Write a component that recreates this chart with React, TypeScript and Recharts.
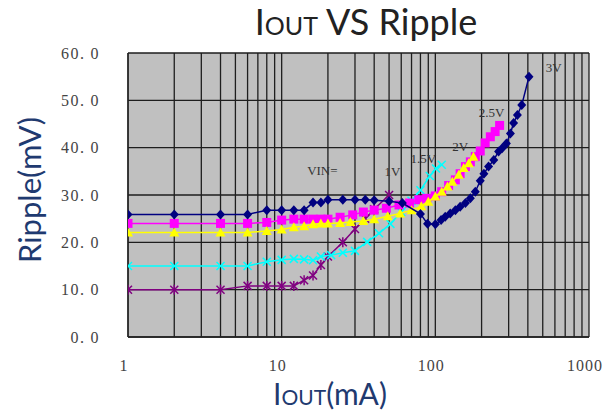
import React from "react";
import { ScatterChart, Scatter, XAxis, YAxis, CartesianGrid, ReferenceDot } from "recharts";

// ---- data ----
const v3X = [1, 2, 4, 6, 8, 10, 12, 14, 16, 18, 20, 25, 30, 35, 40, 50, 61, 80, 89, 100, 109, 116, 125, 135, 145, 157, 169, 182, 196, 207, 222, 240, 258, 272, 290, 308, 323, 342, 365, 407];
const v3Y = [25.9, 25.9, 25.9, 25.9, 26.8, 26.8, 26.8, 26.8, 28.4, 28.4, 29, 29, 29, 29, 28.9, 28.7, 28.3, 26, 23.9, 23.8, 24.7, 25.4, 26.1, 26.8, 27.5, 28.3, 29.3, 30.7, 33, 34.5, 36, 37.4, 39.2, 39.9, 40.9, 43, 45.2, 46.9, 49, 55];

const v25X = [1, 2, 4, 6, 8, 10, 12, 14, 16, 18, 20, 24, 29, 34, 40, 48, 58, 68, 78, 88, 100, 110, 122, 135, 145, 157, 169, 182, 196, 211, 228, 245, 262];
const v25Y = [24, 24, 24, 24, 24.2, 24.7, 24.9, 24.9, 24.9, 24.9, 24.9, 25.3, 25.8, 26.4, 26.8, 27.2, 27.9, 28.3, 29, 29.3, 29.8, 30.7, 32, 33.2, 34.5, 36, 37, 38.1, 39.3, 41, 42.3, 43.4, 44.7];

const v2X = [1, 2, 4, 6, 8, 10, 12, 14, 16, 18, 20, 24, 28, 34, 40, 49, 59, 70, 81, 90, 100, 110, 120, 129, 142, 153, 165, 177];
const v2Y = [22.1, 22.1, 22.1, 22.1, 22.4, 22.7, 23.2, 23.4, 23.8, 24, 24, 24.1, 24.3, 24.5, 24.9, 25.5, 26.1, 26.8, 27.6, 28.6, 29.7, 30.7, 31.8, 32.8, 34.3, 35.7, 36.7, 38.1];

const v15X = [1, 2, 4, 6, 8, 10, 12, 14, 16, 18, 21, 25, 30, 36, 43, 51, 60, 70, 80, 92, 101, 110];
const v15Y = [15, 15, 15, 15, 15.9, 16.3, 16.5, 16.4, 16.2, 17, 17.3, 17.8, 18.2, 20.1, 21.9, 23.9, 26.4, 28.8, 31, 34, 35.6, 36.4];

const v1X = [1, 2, 4, 6, 8, 10, 12, 14, 16, 18, 20, 25, 30, 35, 40, 50];
const v1Y = [10, 10, 10, 10.8, 10.8, 10.8, 10.8, 12, 13, 15.2, 17, 20, 22.8, 25, 27, 30];

const xTicks = [1, 2, 3, 4, 5, 6, 7, 8, 9, 10, 20, 30, 40, 50, 60, 70, 80, 90, 100, 200, 300, 400, 500, 600, 700, 800, 900, 1000];
const xTickLabels = [1, 10, 100, 1000];
const yTicks = [0, 10, 20, 30, 40, 50, 60];

const noteText = ["VIN=", "1V", "1.5V", "2V", "2.5V", "3V"];
const noteX = [18.4, 52.5, 83.5, 145, 232, 590];
const noteY = [35.1, 34.9, 37.8, 40.2, 47.4, 56.9];

const zip = (xs: number[], ys: number[]) => xs.map((x, i) => ({ x, y: ys[i] }));

const Diamond = (p: any) => (
  <polygon points={`${p.cx},${p.cy - 5} ${p.cx + 4.5},${p.cy} ${p.cx},${p.cy + 5} ${p.cx - 4.5},${p.cy}`} fill="#000080" />
);
const Square = (p: any) => <rect x={p.cx - 4.5} y={p.cy - 4.5} width={9} height={9} fill="#ff00ff" />;
const Triangle = (p: any) => (
  <polygon points={`${p.cx},${p.cy - 5} ${p.cx + 5},${p.cy + 4} ${p.cx - 5},${p.cy + 4}`} fill="#ffff00" />
);
const XMark = (p: any) => (
  <g stroke="#00ffff" strokeWidth={1.5}>
    <line x1={p.cx - 4} y1={p.cy - 4} x2={p.cx + 4} y2={p.cy + 4} />
    <line x1={p.cx - 4} y1={p.cy + 4} x2={p.cx + 4} y2={p.cy - 4} />
  </g>
);
const Star = (p: any) => (
  <g stroke="#800080" strokeWidth={1.5}>
    <line x1={p.cx - 4} y1={p.cy - 4} x2={p.cx + 4} y2={p.cy + 4} />
    <line x1={p.cx - 4} y1={p.cy + 4} x2={p.cx + 4} y2={p.cy - 4} />
    <line x1={p.cx} y1={p.cy - 5} x2={p.cx} y2={p.cy + 5} />
  </g>
);

const serif = "'Liberation Serif', 'DejaVu Serif', serif";
const sans = "Lato, 'Open Sans', sans-serif";

const YTick = (p: any) => {
  const v = Number(p.payload.value);
  return (
    <text x={p.x} y={p.y} dy="0.35em" textAnchor="end" fontFamily={serif} fontSize={16} fill="#444" letterSpacing={1.5}>
      {Math.floor(v) + "."}
      <tspan dx={5}>{String(Math.round((v % 1) * 10))}</tspan>
    </text>
  );
};

const XTick = (p: any) => {
  const v = Number(p.payload.value);
  if (!xTickLabels.includes(v)) return null;
  return (
    <text x={p.x - 4} y={p.y} dy="0.71em" textAnchor="middle" fontFamily={serif} fontSize={16} fill="#444" letterSpacing={1}>
      {String(v)}
    </text>
  );
};

export default function App() {
  return (
    <div style={{ position: "absolute", left: 0, top: 0, width: 614, height: 412, background: "#fff" }}>
      <div
        style={{
          position: "absolute", left: 166, width: 400, top: 3, lineHeight: "36px", textAlign: "center",
          fontFamily: sans, fontSize: 36, color: "#222", whiteSpace: "nowrap",
        }}
      >
        I<span style={{ fontSize: 25 }}>OUT</span> VS Ripple
      </div>
      <ScatterChart width={614} height={412} margin={{ top: 53, right: 25, left: 0, bottom: 0 }}>
        <CartesianGrid stroke="#1e1e1e" strokeWidth={1.3} fill="#c0c0c0" fillOpacity={1} />
        <XAxis
          type="number" dataKey="x" scale="log" domain={[1, 1000]} allowDataOverflow ticks={xTicks}
          height={75} tickLine={false} axisLine={{ stroke: "#222", strokeWidth: 1.6 }} tickMargin={17} tick={<XTick />} interval={0}
        />
        <YAxis
          type="number" dataKey="y" domain={[0, 60]} ticks={yTicks} width={128}
          tickLine={false} axisLine={{ stroke: "#222", strokeWidth: 1.3 }}
          tickMargin={22} tick={<YTick />} interval={0}
        />
        <Scatter data={zip(v1X, v1Y)} line={{ stroke: "#800080", strokeWidth: 1.5 }} shape={Star} isAnimationActive={false} />
        <Scatter data={zip(v15X, v15Y)} line={{ stroke: "#00ffff", strokeWidth: 1.5 }} shape={XMark} isAnimationActive={false} />
        <Scatter data={zip(v25X, v25Y)} line={{ stroke: "#ff00ff", strokeWidth: 1.5 }} shape={Square} isAnimationActive={false} />
        <Scatter data={zip(v2X, v2Y)} line={{ stroke: "#ffff00", strokeWidth: 1.5 }} shape={Triangle} isAnimationActive={false} />
        <Scatter data={zip(v3X, v3Y)} line={{ stroke: "#000080", strokeWidth: 1.5 }} shape={Diamond} isAnimationActive={false} />
        {noteText.map((t, i) => (
          <ReferenceDot
            key={t} x={noteX[i]} y={noteY[i]} r={0} fill="none" stroke="none" ifOverflow="visible"
            label={{ value: t, position: "center", fill: "#333", fontSize: 13, fontFamily: serif }}
          />
        ))}
      </ScatterChart>
      <div
        style={{
          position: "absolute", left: 180, width: 300, top: 378, lineHeight: "30px", textAlign: "center",
          fontFamily: sans, fontSize: 30, color: "#1f3a70", whiteSpace: "nowrap",
        }}
      >
        I<span style={{ fontSize: 21 }}>OUT</span>(mA)
      </div>
      <div style={{ position: "absolute", left: 29, top: 190, width: 0, height: 0 }}>
        <div
          style={{
            position: "absolute", left: -130, top: -20, width: 260, height: 40, lineHeight: "40px", textAlign: "center",
            transform: "rotate(-90deg)", fontFamily: sans, fontSize: 31, color: "#1f3a70", whiteSpace: "nowrap",
          }}
        >
          Ripple(mV)
        </div>
      </div>
    </div>
  );
}
